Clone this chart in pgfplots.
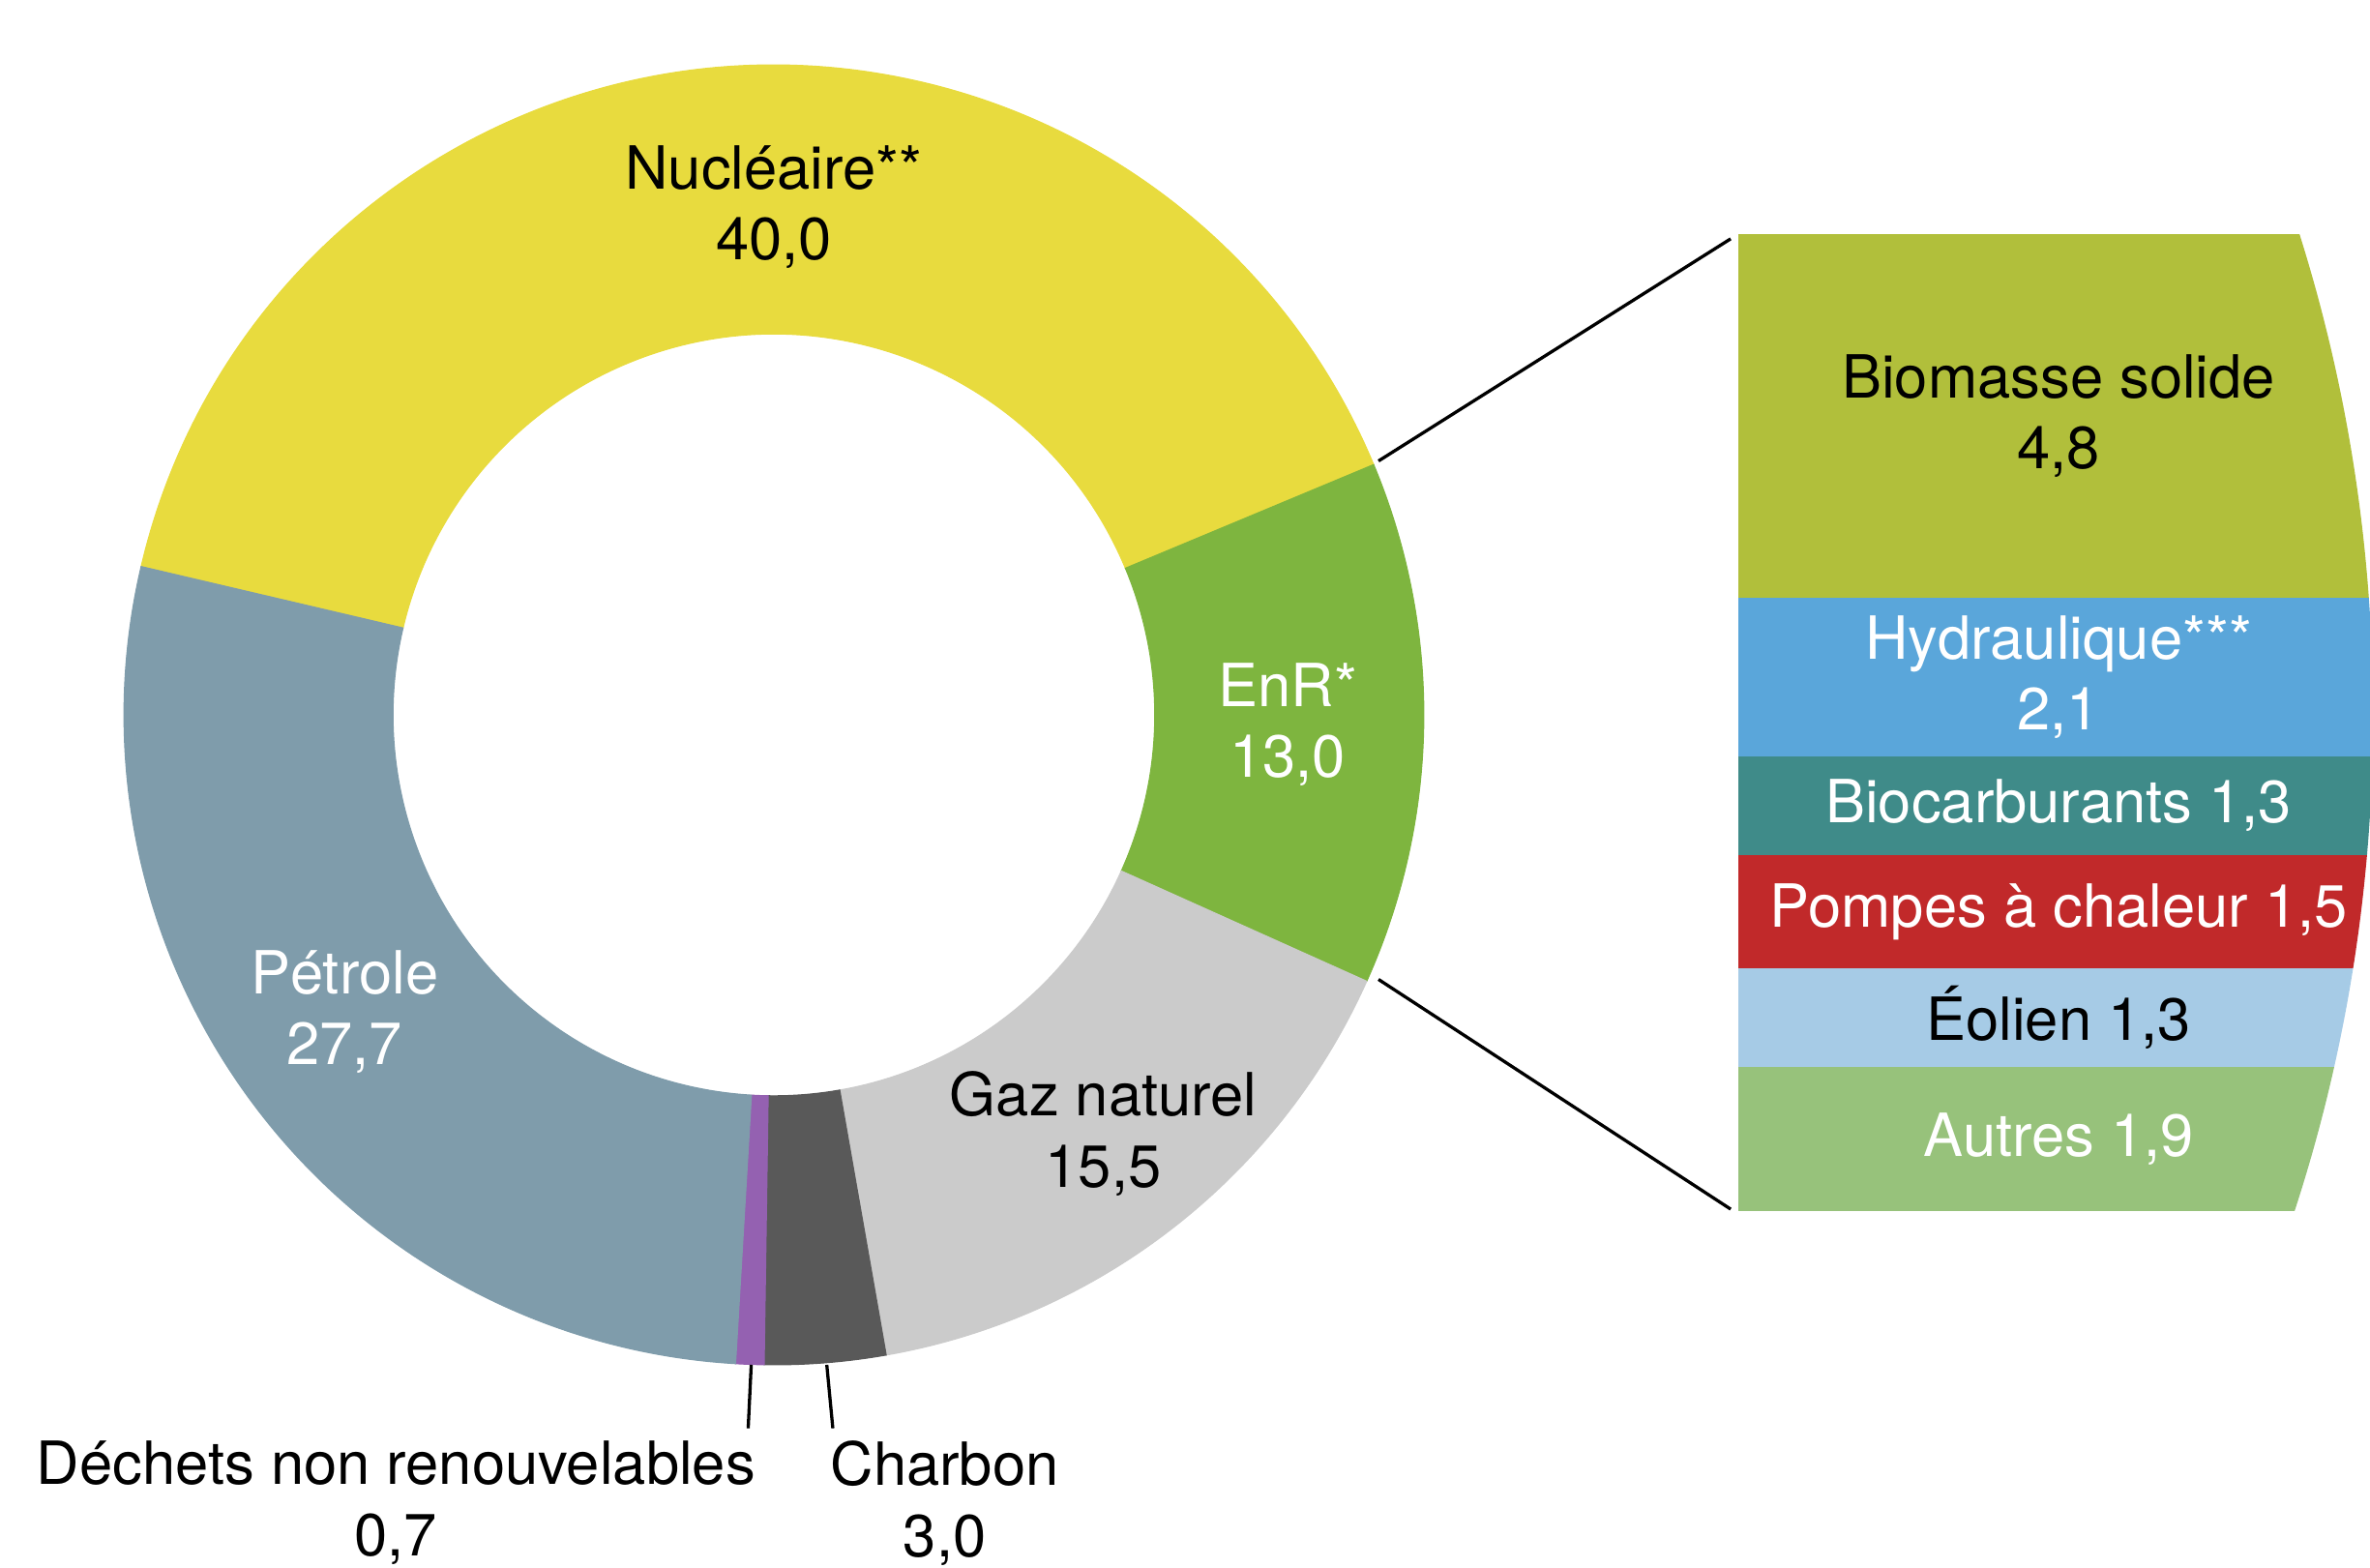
\documentclass[border=0pt]{standalone}
\usepackage{pgfplots}
\pgfplotsset{compat=1.18}
\usepackage{pgfplotstable}
\usepackage{fontspec}
\setmainfont{TeX Gyre Heros}

\definecolor{nuc}{HTML}{E8DB3E}
\definecolor{enr}{HTML}{7EB53F}
\definecolor{gaz}{HTML}{CBCBCB}
\definecolor{charbon}{HTML}{595959}
\definecolor{dechets}{HTML}{9461B1}
\definecolor{petrole}{HTML}{7F9CAB}
\definecolor{biomasse}{HTML}{B1BF3B}
\definecolor{hydro}{HTML}{5AA6DA}
\definecolor{biocarb}{HTML}{3F8B89}
\definecolor{pac}{HTML}{C1292A}
\definecolor{eolien}{HTML}{A6CBE6}
\definecolor{autres}{HTML}{97C27B}

% mix energetique primaire (%)
\pgfplotstableread{
source value
Nucleaire 40.0
EnR 13.0
Gaz 15.5
Charbon 3.0
Dechets 0.7
Petrole 27.7
}\mixtable

% detail des EnR, de bas en haut
\pgfplotstableread{
source value
Autres 1.9
Eolien 1.3
Pompes 1.5
Biocarburants 1.3
Hydraulique 2.1
Biomasse 4.8
}\enrtable

% one ring slice: start angle, end angle, colour
\newcommand\slice[3]{%
  \fill[#3, draw=#3, line width=0.2pt] (axis cs:512,564.4) ++(#1:4.3cm)
    arc[start angle=#1, end angle=#2, radius=4.3cm]
    -- ++(#2:-1.78cm)
    arc[start angle=#2, end angle=#1, radius=2.52cm] -- cycle;}

\begin{document}
\begin{tikzpicture}[font=\fontsize{11.2}{13.4}\selectfont]
% angles of the slices, clockwise from the left
\pgfmathsetmacro\total{0}
\pgfplotsforeachungrouped \i in {0,...,5}{%
  \pgfplotstablegetelem{\i}{value}\of\mixtable
  \pgfmathsetmacro\total{\total+\pgfplotsretval}}
\pgfmathsetmacro\aA{166.8}
\pgfplotstablegetelem{0}{value}\of\mixtable \pgfmathsetmacro\aB{\aA-\pgfplotsretval/\total*360}
\pgfplotstablegetelem{1}{value}\of\mixtable \pgfmathsetmacro\aC{\aB-\pgfplotsretval/\total*360}
\pgfplotstablegetelem{2}{value}\of\mixtable \pgfmathsetmacro\aD{\aC-\pgfplotsretval/\total*360}
\pgfplotstablegetelem{3}{value}\of\mixtable \pgfmathsetmacro\aE{\aD-\pgfplotsretval/\total*360}
\pgfplotstablegetelem{4}{value}\of\mixtable \pgfmathsetmacro\aF{\aE-\pgfplotsretval/\total*360}
\pgfmathsetmacro\aG{\aA-360}

\begin{axis}[
  width=15.68cm, height=10.374cm, scale only axis,
  xmin=0, xmax=1568, ymin=0, ymax=1037.4,
  hide axis, clip=false]
  \coordinate (O) at (axis cs:0,0);
  \coordinate (T) at (axis cs:1568,1037.4);
  \coordinate (C) at (axis cs:512,564.4);
  \coordinate (B) at (axis cs:1150,236.4);

  \slice{\aA}{\aB}{nuc}
  \slice{\aB}{\aC}{enr}
  \slice{\aC}{\aD}{gaz}
  \slice{\aD}{\aE}{charbon}
  \slice{\aE}{\aF}{dechets}
  \slice{\aF}{\aG}{petrole}

  \node[align=center] at (axis cs:512,900.4) {Nucléaire**\\40,0};
  \node[align=center, white] at (axis cs:852,558) {EnR*\\13,0};
  \node[align=center] at (axis cs:730,287.4) {Gaz naturel\\15,5};
  \node[align=center, white] at (axis cs:228,368) {Pétrole\\27,7};
  \node[align=center] at (axis cs:262,43) {Déchets non renouvelables\\0,7};
  \node[align=center] at (axis cs:625,43) {Charbon\\3,0};

  \draw[line width=0.6pt] (axis cs:497,134.4) -- (axis cs:495,92.4);
  \draw[line width=0.6pt] (axis cs:547,134.4) -- (axis cs:551,92.4);
  \draw[line width=0.6pt] (axis cs:912,732.4) -- (axis cs:1145,879.4);
  \draw[line width=0.6pt] (axis cs:912,389.4) -- (axis cs:1145,237.4);
\end{axis}

\begin{scope}
\clip (C) circle[radius=10.58cm];
\begin{axis}[
  at={(B)}, anchor=south west,
  width=4.24cm, height=6.46cm, scale only axis,
  xmin=-0.5, xmax=0.5, ymin=0, ymax=12.9,
  enlargelimits=false, hide axis, clip=false,
  ybar stacked, bar width=1]
  \addplot[draw=none, fill=autres] table[x expr=0, y=value, skip coords between index={1}{6}] {\enrtable};
  \addplot[draw=none, fill=eolien] table[x expr=0, y=value, skip coords between index={0}{1}, skip coords between index={2}{6}] {\enrtable};
  \addplot[draw=none, fill=pac] table[x expr=0, y=value, skip coords between index={0}{2}, skip coords between index={3}{6}] {\enrtable};
  \addplot[draw=none, fill=biocarb] table[x expr=0, y=value, skip coords between index={0}{3}, skip coords between index={4}{6}] {\enrtable};
  \addplot[draw=none, fill=hydro] table[x expr=0, y=value, skip coords between index={0}{4}, skip coords between index={5}{6}] {\enrtable};
  \addplot[draw=none, fill=biomasse] table[x expr=0, y=value, skip coords between index={0}{5}] {\enrtable};

  \coordinate (L1) at (axis cs:0,10.5);
  \coordinate (L2) at (axis cs:0,7.05);
  \coordinate (L3) at (axis cs:0,5.35);
  \coordinate (L4) at (axis cs:0,3.95);
  \coordinate (L5) at (axis cs:0,2.55);
  \coordinate (L6) at (axis cs:0,0.95);
\end{axis}
\end{scope}

% labels of the EnR breakdown, on top of the bars
\node[align=center] at (L1) {Biomasse solide\\4,8};
\node[align=center, white] at (L2) {Hydraulique***\\2,1};
\node[white] at (L3) {Biocarburants 1,3};
\node[white] at (L4) {Pompes à chaleur 1,5};
\node at (L5) {Éolien 1,3};
\node[white] at (L6) {Autres 1,9};

\pgfresetboundingbox
\path[use as bounding box] (O) rectangle (T);
\end{tikzpicture}
\end{document}
